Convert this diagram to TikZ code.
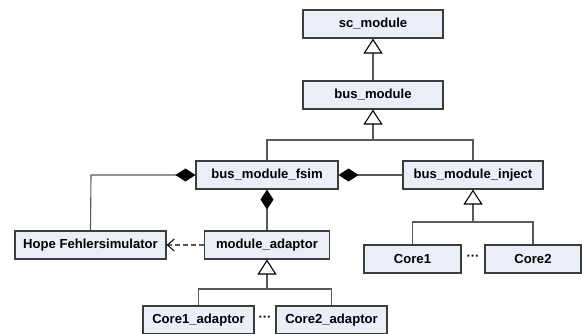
\documentclass[tikz,border=0pt]{standalone}
\usepackage{fontspec}
\setmainfont{Liberation Sans}
\usetikzlibrary{arrows.meta}
\definecolor{boxfill}{RGB}{233,238,247}
\definecolor{boxdraw}{RGB}{60,60,60}
\definecolor{linec}{RGB}{90,90,90}
\tikzset{
  cls/.style={draw=boxdraw, fill=boxfill, line width=1.1pt, minimum height=28pt, inner sep=0pt,
    font=\fontsize{13.1}{15}\selectfont\bfseries},
  conn/.style={draw=linec, line width=1.1pt},
  inh/.style={conn, {Triangle[open, black, length=15pt, width=19pt, line width=1.1pt]}-},
  comp/.style={conn, {Diamond[black, length=20pt, width=13pt]}-},
  dep/.style={conn, dash pattern=on 5pt off 3pt, -{Straight Barb[black, length=7pt, width=12pt, line width=1pt]}},
  dotsl/.style={font=\fontsize{13}{15}\selectfont\bfseries, inner sep=0pt}
}
\begin{document}
\begin{tikzpicture}[x=1pt, y=-1pt]
\useasboundingbox (0,0) rectangle (582,334);
\node[cls, minimum width=140pt] (sc) at (373,24) {sc\_module};
\node[cls, minimum width=140pt] (bus) at (373,95) {bus\_module};
\node[cls, minimum width=142pt] (fsim) at (267,175) {bus\_module\_fsim};
\node[cls, minimum width=140pt] (inject) at (473,175) {bus\_module\_inject};
\node[cls, minimum width=151pt] (hope) at (90.5,245) {Hope Fehlersimulator};
\node[cls, minimum width=125pt] (adaptor) at (267,245) {module\_adaptor};
\node[cls, minimum width=97pt] (core1) at (412.5,259) {Core1};
\node[cls, minimum width=96pt] (core2) at (533,259) {Core2};
\node[cls, minimum width=111pt] (c1a) at (198.5,320) {Core1\_adaptor};
\node[cls, minimum width=111pt] (c2a) at (331.5,320) {Core2\_adaptor};
\node[dotsl] (d1) at (473,258) {···};
\node[dotsl] (d2) at (265,319) {···};
% junctions
\coordinate (j1) at (373,140);
\coordinate (j2) at (473,222);
\coordinate (j3) at (267,289);
\coordinate (j4) at (91,175);
% inheritance
\draw[inh] (sc.south) -- (bus.north);
\draw[inh] (bus.south) -- (j1);
\draw[conn] (fsim.north) |- (j1) -| (inject.north);
\draw[inh] (inject.south) -- (j2);
\draw[conn] (core1.north) |- (j2) -| (core2.north);
\draw[inh] (adaptor.south) -- (j3);
\draw[conn] (c1a.north) |- (j3) -| (c2a.north);
% composition
\draw[comp] (fsim.east) -- (inject.west);
\draw[comp] (fsim.west) -- (j4) -- (hope.north);
\draw[comp] (fsim.south) -- (adaptor.north);
% dependency
\draw[dep] (adaptor.west) -- (hope.east);
\end{tikzpicture}
\end{document}
